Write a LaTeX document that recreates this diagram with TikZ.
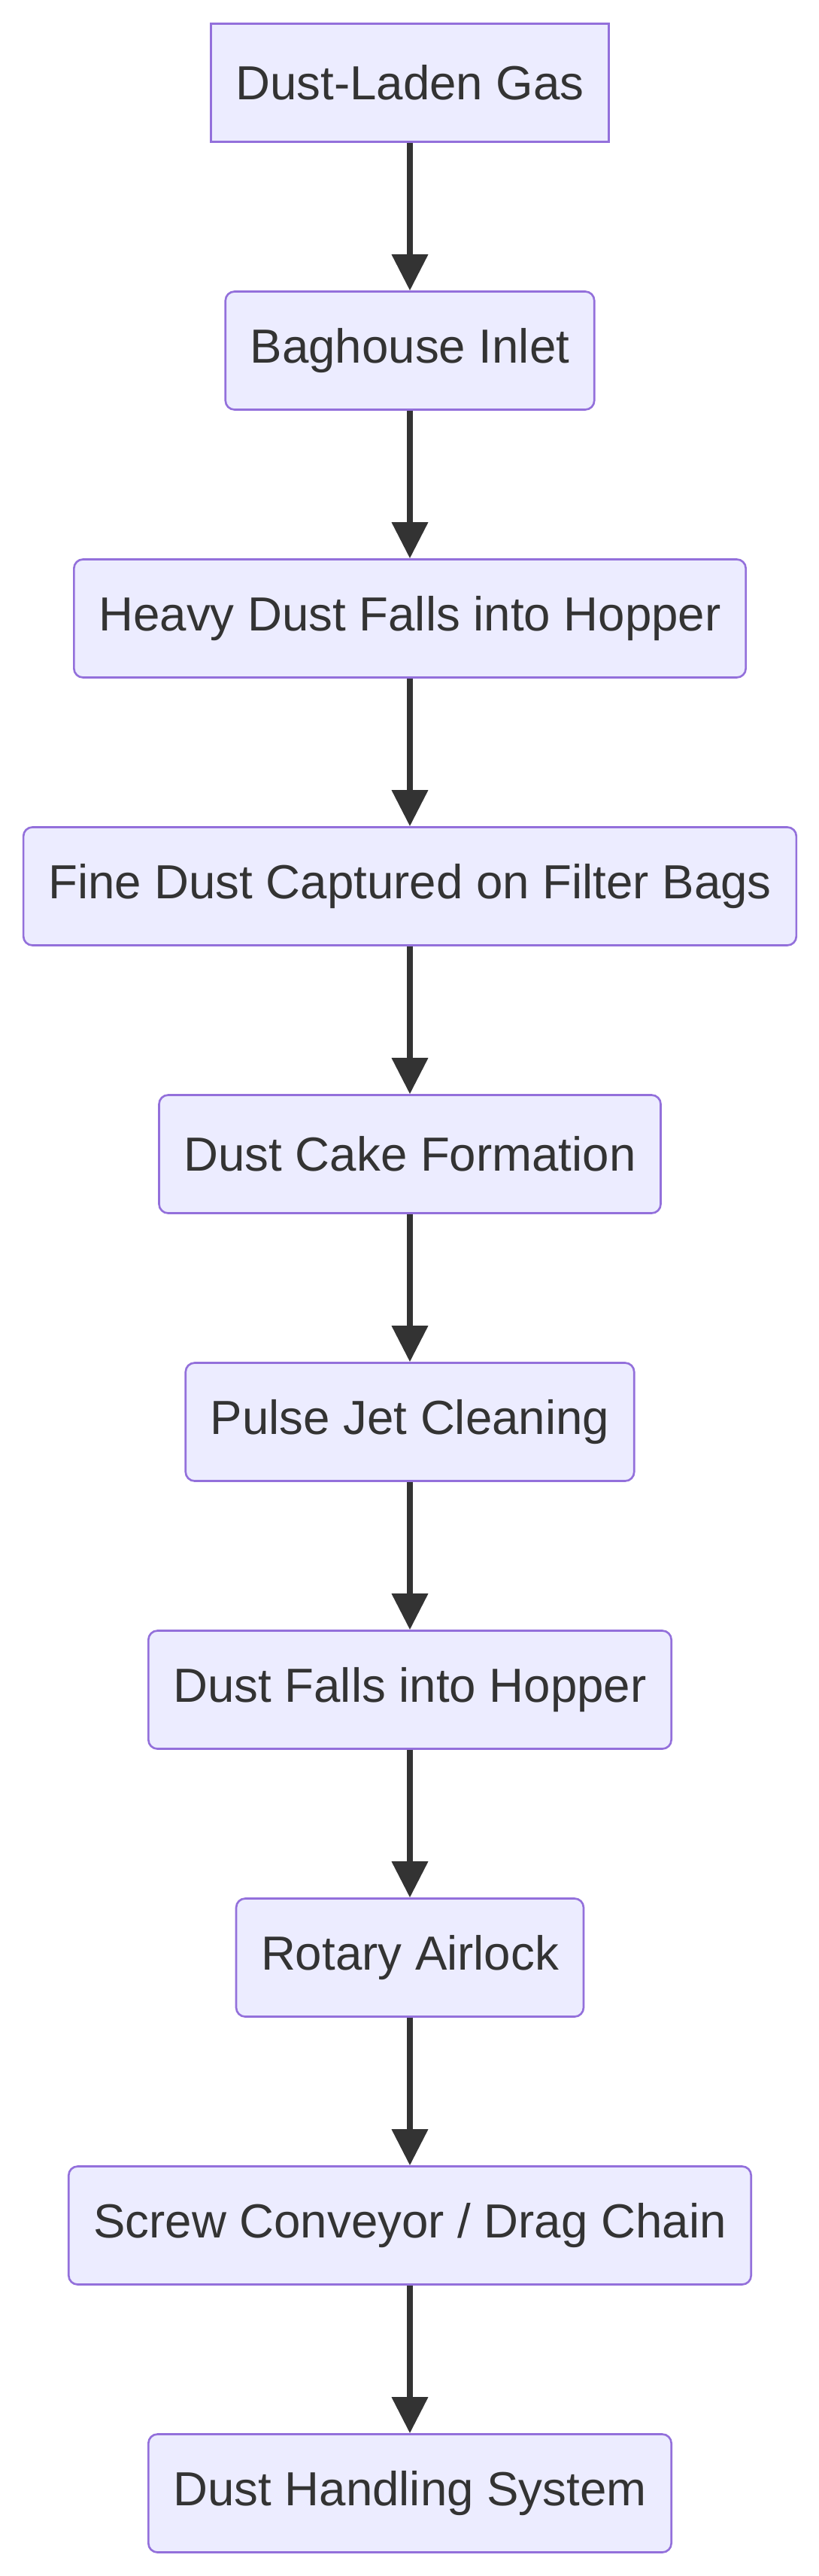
\documentclass[tikz,border=0pt]{standalone}
\usepackage{fontspec}
\setmainfont{Liberation Sans}
\usetikzlibrary{arrows.meta}
\definecolor{boxfill}{HTML}{ECECFF}
\definecolor{boxline}{HTML}{9370DB}
\definecolor{inkgrey}{HTML}{333333}
\begin{document}
\begin{tikzpicture}[
        stepbox/.style={draw=boxline, fill=boxfill, line width=0.75pt, text=inkgrey,
            rounded corners=0.12cm, inner xsep=0.33cm, minimum height=1.57cm,
            font=\fontsize{18.1pt}{21pt}\selectfont},
        sharpbox/.style={stepbox, sharp corners},
        flow/.style={draw=inkgrey, line width=2pt, -{Triangle[length=0.48cm, width=0.47cm]}}
    ]
        \useasboundingbox (0, 0) rectangle (10.88, -34.24);

        % Gas side
        \node [sharpbox] (gas) at (5.45, -1.10) {Dust-Laden Gas};
        \node [stepbox] (inlet) at (5.45, -4.66) {Baghouse Inlet};
        \node [stepbox] (heavy) at (5.45, -8.22) {Heavy Dust Falls into Hopper};
        \node [stepbox] (fine) at (5.45, -11.78) {Fine Dust Captured on Filter Bags};
        \node [stepbox] (cake) at (5.45, -15.34) {Dust Cake Formation};

        % Cleaning
        \node [stepbox] (pulse) at (5.45, -18.90) {Pulse Jet Cleaning};
        \node [stepbox] (falls) at (5.45, -22.46) {Dust Falls into Hopper};

        % Discharge
        \node [stepbox] (airlock) at (5.45, -26.02) {Rotary Airlock};
        \node [stepbox] (screw) at (5.45, -29.58) {Screw Conveyor / Drag Chain};
        \node [stepbox] (handling) at (5.45, -33.14) {Dust Handling System};

        % Flow
        \draw [flow] (gas) -- (inlet);
        \draw [flow] (inlet) -- (heavy);
        \draw [flow] (heavy) -- (fine);
        \draw [flow] (fine) -- (cake);
        \draw [flow] (cake) -- (pulse);
        \draw [flow] (pulse) -- (falls);
        \draw [flow] (falls) -- (airlock);
        \draw [flow] (airlock) -- (screw);
        \draw [flow] (screw) -- (handling);
    \end{tikzpicture}
\end{document}
